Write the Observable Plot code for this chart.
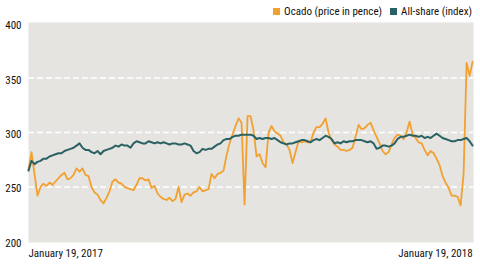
<!DOCTYPE html>
<html>
<head>
<meta charset="utf-8">
<script src="https://cdn.jsdelivr.net/npm/d3@7"></script>
<script src="https://cdn.jsdelivr.net/npm/@observablehq/plot@0.6"></script>
<style>
  html, body { margin: 0; padding: 0; background: #fff; }
  #wrap { position: relative; width: 480px; height: 266px; font-family: "Liberation Sans Narrow", "Roboto Condensed", "DejaVu Sans Condensed", sans-serif; color: #111; }
  #legend { position: absolute; top: 5px; right: 8px; display: flex; align-items: center; font-size: 11px; white-space: nowrap; }
  #legend .sw { display: inline-block; width: 7px; height: 7px; margin-right: 4px; }
  #legend .item { display: flex; align-items: center; margin-left: 8px; }
</style>
</head>
<body>
<div id="wrap"><div id="legend"></div></div>
<script>
const seriesNames = ["Ocado (price in pence)", "All-share (index)"];
const seriesColors = ["#f2a030", "#2a6264"];
const xLabels = ["January 19, 2017", "January 19, 2018"];
const yTicks = [200, 250, 300, 350, 400];
const gridValues = [250, 300, 350];

const ocado = [
  266, 282, 262, 242, 250, 253, 251, 254, 252, 255,
  258, 261, 263, 257, 258, 261, 267, 264, 267, 261,
  260, 250, 245, 243, 238, 235, 240, 246, 255, 257,
  254, 253, 250, 249, 248, 247, 252, 258, 258, 256,
  257, 249, 251, 244, 241, 239, 238, 240, 237, 239,
  250, 236, 243, 244, 242, 245, 246, 250, 246, 247,
  248, 262, 258, 262, 263, 265, 279, 290, 298, 306,
  313, 309, 234, 315, 315, 302, 278, 280, 272, 268,
  300, 306, 301, 299, 297, 291, 289, 284, 272, 282,
  292, 291, 292, 291, 291, 300, 305, 305, 308, 313,
  300, 293, 289, 287, 284, 284, 283, 284, 286, 296,
  307, 303, 304, 307, 309, 302, 296, 290, 283, 280,
  282, 289, 295, 298, 297, 294, 300, 310, 298, 295,
  291, 290, 284, 279, 283, 281, 276, 270, 260, 254,
  249, 242, 242, 241, 233, 262, 364, 352, 365
];

const allShare = [
  265, 274, 271, 273, 274, 276, 276, 278, 279, 280,
  281, 281, 283, 284, 285, 286, 288, 290, 286, 284,
  284, 282, 281, 283, 280, 283, 284, 285, 286, 288,
  287, 289, 288, 288, 286, 290, 292, 291, 290, 290,
  292, 291, 290, 291, 290, 291, 290, 289, 290, 290,
  289, 289, 290, 289, 288, 283, 281, 282, 285, 284,
  285, 285, 287, 289, 290, 293, 294, 294, 296, 297,
  297, 298, 298, 298, 298, 297, 294, 295, 294, 295,
  295, 294, 295, 293, 291, 290, 289, 290, 290, 291,
  292, 293, 293, 292, 291, 293, 294, 293, 295, 297,
  296, 294, 290, 291, 290, 292, 291, 292, 292, 293,
  293, 293, 292, 291, 292, 290, 285, 286, 288, 288,
  287, 288, 290, 294, 296, 296, 297, 298, 297, 297,
  296, 297, 295, 296, 295, 297, 299, 297, 295, 294,
  293, 292, 292, 293, 293, 294, 295, 292, 288
];

const last = ocado.length - 1;
const font = '"Liberation Sans Narrow", "Roboto Condensed", "DejaVu Sans Condensed", sans-serif';

const chart = Plot.plot({
  width: 480,
  height: 266,
  marginTop: 22,
  marginBottom: 24,
  marginLeft: 28,
  marginRight: 7,
  x: { domain: [0, last + 0.3], axis: null },
  y: { domain: [199, 401], axis: null },
  style: { fontFamily: font, fontSize: "11px", color: "#111", background: "white", overflow: "visible" },
  marks: [
    Plot.frame({ fill: "#e5e4e0", stroke: "none" }),
    Plot.ruleY(gridValues, { stroke: "white", strokeWidth: 1.6, strokeDasharray: "6,3" }),
    Plot.lineY(ocado, { stroke: seriesColors[0], strokeWidth: 1.8, strokeLinejoin: "round" }),
    Plot.lineY(allShare, { stroke: seriesColors[1], strokeWidth: 2, strokeLinejoin: "round" }),
    Plot.axisY({ ticks: yTicks, tickSize: 0, tickPadding: 7, dy: 2, fontSize: 11, label: null }),
    Plot.text([xLabels[0]], { x: 0, frameAnchor: "bottom", textAnchor: "start", dy: 14, fontSize: 11, text: d => d }),
    Plot.text([xLabels[1]], { x: last, frameAnchor: "bottom", textAnchor: "end", dy: 14, fontSize: 11, text: d => d })
  ]
});

const wrap = document.getElementById("wrap");
wrap.insertBefore(chart, wrap.firstChild);

const legend = document.getElementById("legend");
seriesNames.forEach((name, k) => {
  const item = document.createElement("span");
  item.className = "item";
  const sw = document.createElement("span");
  sw.className = "sw";
  sw.style.background = seriesColors[k];
  item.appendChild(sw);
  item.appendChild(document.createTextNode(name));
  legend.appendChild(item);
});
</script>
</body>
</html>
